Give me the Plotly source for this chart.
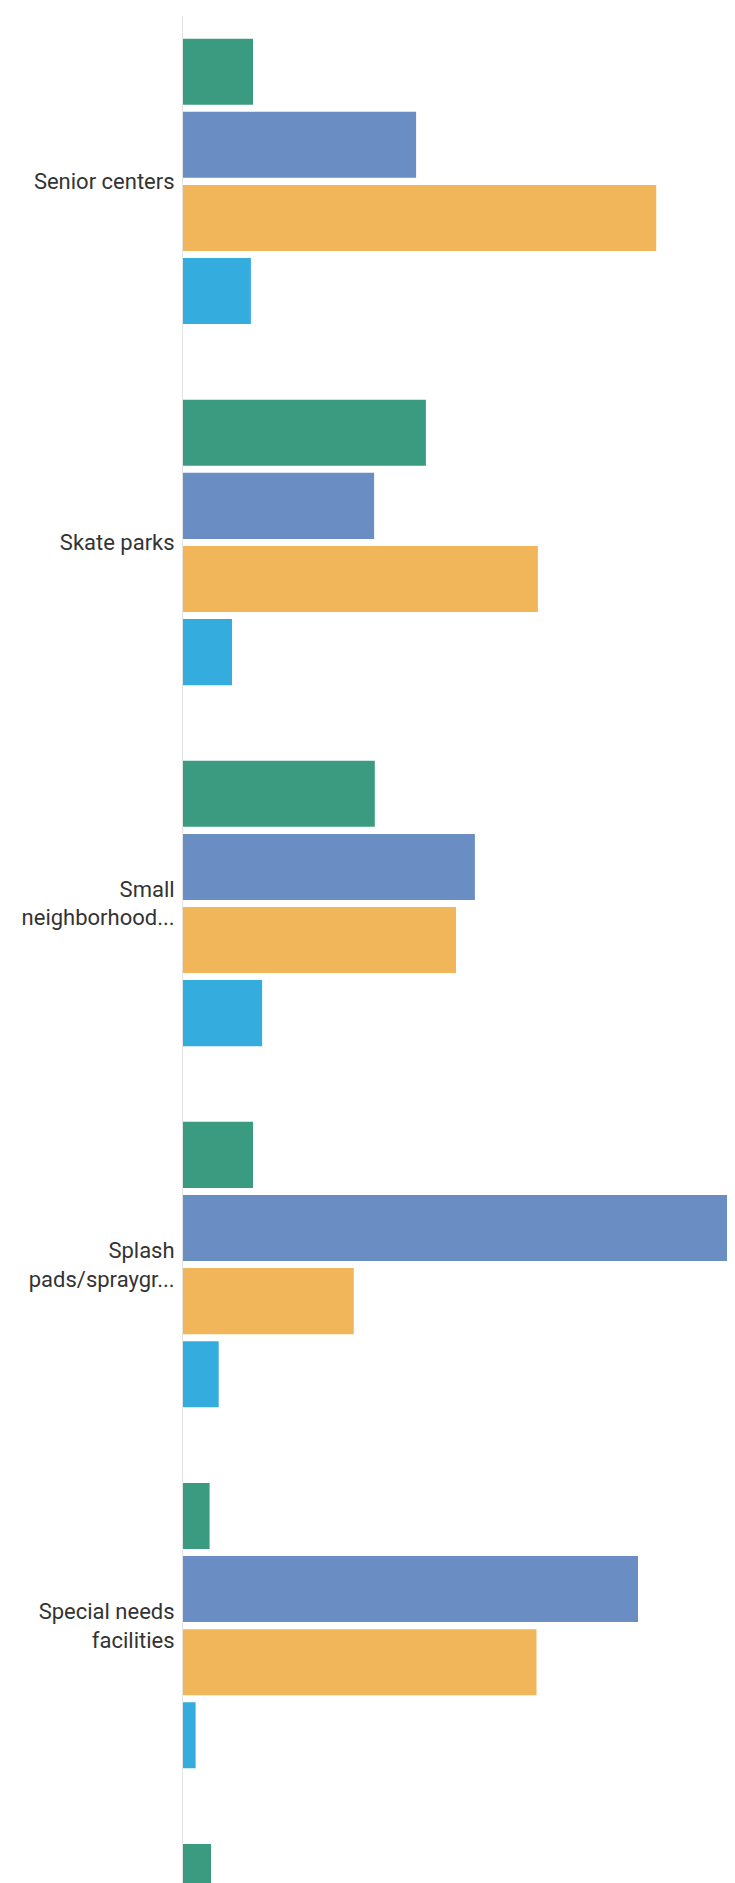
import plotly.graph_objects as go

categories = [
    "Senior centers",
    "Skate parks",
    "Small<br>neighborhood...",
    "Splash<br>pads/spraygr...",
    "Special needs<br>facilities",
    "Sports fields",
]
series_names = ["Series 1", "Series 2", "Series 3", "Series 4"]
green_vals = [10.0, 34.7, 27.4, 10.0, 3.8, 4.0]
blue_vals = [33.3, 27.3, 41.7, 82.0, 65.0, None]
orange_vals = [67.6, 50.7, 39.0, 24.4, 50.5, None]
cyan_vals = [9.7, 7.0, 11.3, 5.1, 1.8, None]

colors = ["#3A9B80", "#6A8EC4", "#F2B65A", "#34ACDD"]

fig = go.Figure()
for name, vals, col in zip(series_names, [green_vals, blue_vals, orange_vals, cyan_vals], colors):
    fig.add_trace(go.Bar(
        y=categories, x=vals, name=name, orientation="h",
        marker=dict(color=col, line=dict(width=0)),
    ))

fig.update_layout(
    width=735, height=1883,
    margin=dict(l=175, r=0, t=8, b=0),
    paper_bgcolor="white", plot_bgcolor="white",
    barmode="group", bargap=0.19, bargroupgap=0.096,
    showlegend=False,
    font=dict(family="Roboto", size=22, color="#333333"),
)
fig.update_xaxes(range=[0, 80], showgrid=False, zeroline=False, showticklabels=False, showline=False)
fig.update_yaxes(
    type="category", categoryorder="array", categoryarray=categories,
    range=[4.735, -0.458], autorange=False,
    showgrid=False, zeroline=False, showline=True, linecolor="#e3e3e3", linewidth=1,
    ticks="", ticklabelstandoff=3, automargin=False,
)
fig.write_html("out.html")
